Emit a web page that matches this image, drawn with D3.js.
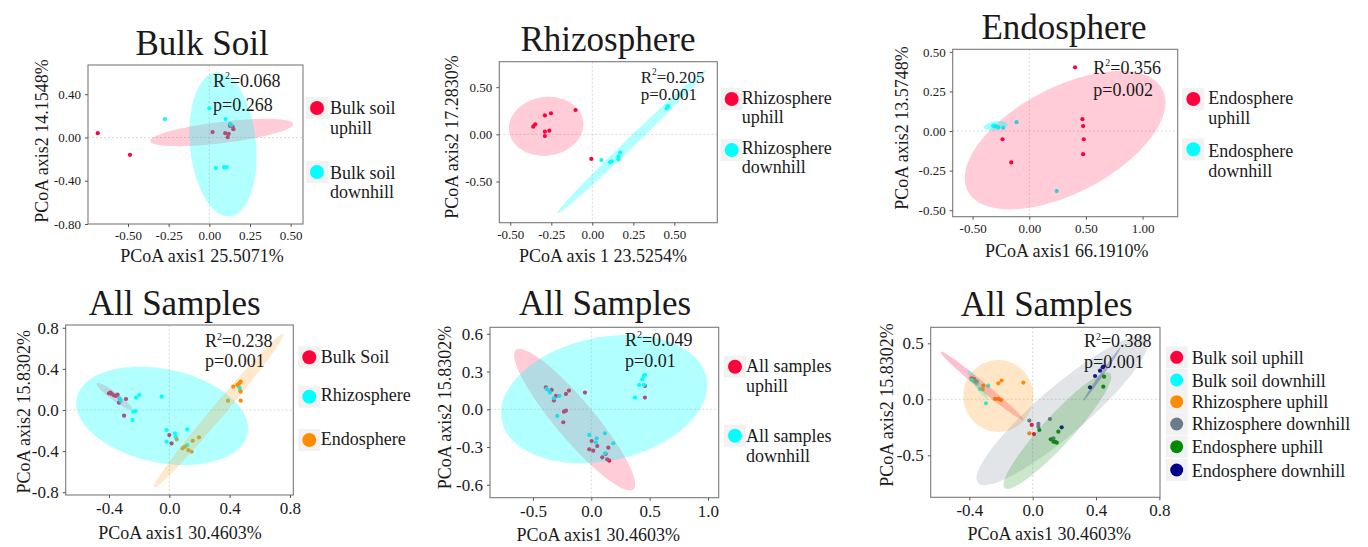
<!DOCTYPE html>
<html><head><meta charset="utf-8">
<script src="https://cdn.jsdelivr.net/npm/d3@7"></script>
<style>
body{margin:0;background:#fff}
svg text{font-family:"Liberation Serif","Times New Roman",serif;fill:#1a1a1a}
</style>
</head><body><svg id="c" width="1368" height="547"></svg>
<script>
// ---------------- DATA (PCoA coordinates, axis units) ----------------
// Panel 1: Bulk soil
const bulkSoilUphill = [[-0.686,0.04],[-0.488,-0.16],[0.02,0.05],[0.098,0.04],[0.119,0.034],[0.113,0.003],[0.143,0.10],[0.148,0.077],[0.127,0.108]];
const bulkSoilDownhill = [[-0.273,0.17],[0.0,0.27],[0.10,0.17],[0.127,0.126],[0.135,0.115],[0.04,-0.283],[0.09,-0.274],[0.107,-0.274]];
// ellipses: [cx, cy, semi-axis A (dx,dy), semi-axis B (dx,dy)]
const bulkSoilUphillEllipse = [0.076,0.046, 0.44,0.08, -0.008,0.098];
const bulkSoilDownhillEllipse = [0.084,-0.065, -0.043,0.665, 0.202,0.0295];
// Panel 2: Rhizosphere
const rhizoUphill = [[-0.102,0.258],[-0.289,0.2],[-0.252,0.223],[-0.36,0.081],[-0.348,0.106],[-0.289,0.028],[-0.289,-0.018],[-0.262,0.039],[-0.006,-0.261]];
const rhizoDownhill = [[0.055,-0.272],[0.108,-0.297],[0.118,-0.286],[0.159,-0.237],[0.169,-0.194],[0.159,-0.265],[0.453,0.276],[0.459,0.293],[0.463,0.30]];
const rhizoUphillEllipse = [-0.2815,0.085, 0.2256,0.053, -0.024,0.308];
const rhizoDownhillEllipse = [0.24,-0.078, 0.453,0.76, 0.0197,-0.0357];
// Panel 3: Endosphere
const endoUphill = [[0.404,0.402],[0.469,0.075],[0.475,0.031],[0.481,-0.052],[0.475,-0.146],[-0.236,-0.052],[-0.159,-0.198]];
const endoDownhill = [[-0.112,0.056],[0.242,-0.379],[-0.319,0.033],[-0.298,0.031],[-0.274,0.023],[-0.23,0.021],[-0.31,0.035]];
const endoUphillEllipse = [0.316,-0.058, 0.858,0.323, -0.221,0.294];
const endoDownhillEllipse = [-0.295,0.033, 0.105,0.010, -0.006,0.027];
// Panel 4: all samples by compartment
const allBulkSoil = [[-0.40,0.162],[-0.382,0.156],[-0.367,0.143],[-0.354,0.136],[-0.343,0.149],[-0.39,0.17],[-0.287,0.107],[-0.334,0.071],[-0.30,-0.055],[0.0,-0.244],[0.015,-0.325]];
const allRhizosphere = [[-0.323,0.091],[-0.33,0.11],[-0.221,0.12],[-0.199,0.146],[-0.051,0.13],[-0.239,-0.016],[-0.223,-0.01],[-0.243,-0.097],[-0.018,-0.195],[0.038,-0.227],[0.042,-0.26],[-0.018,-0.308],[0.119,-0.188],[0.119,-0.341],[0.469,0.195],[0.464,0.221]];
const allEndosphere = [[0.424,0.227],[0.451,0.244],[0.464,0.26],[0.473,0.276],[0.473,0.179],[0.473,0.091],[0.389,0.091],[0.049,-0.286],[0.088,-0.373],[0.104,-0.357],[0.126,-0.39],[0.148,-0.406],[0.155,-0.299],[0.197,-0.266]];
const allBulkSoilEllipse = [-0.365,0.133, 0.117,-0.127, -0.0157,-0.031];
const allRhizosphereEllipse = [-0.0475,-0.057, 0.566,-0.175, 0.064,0.445];
const allEndosphereEllipse = [0.327,-0.0065, 0.429,0.747, 0.0338,-0.0419];
// Panel 5: all samples by slope
const allUphill = [[-0.389,0.175],[-0.34,0.154],[-0.303,0.106],[-0.32,0.069],[-0.217,0.122],[-0.191,0.149],[-0.054,0.133],[-0.234,-0.019],[-0.217,-0.011],[-0.24,-0.103],[0.003,-0.252],[-0.017,-0.318],[0.017,-0.329],[0.051,-0.292],[0.094,-0.382],[0.137,-0.398],[0.154,-0.408],[0.146,-0.305],[0.46,0.186],[0.46,0.093],[0.123,-0.355]];
const allDownhill = [[-0.383,0.162],[-0.363,0.149],[-0.354,0.133],[-0.32,0.088],[-0.274,0.106],[-0.291,-0.053],[-0.017,-0.204],[0.046,-0.231],[0.04,-0.265],[0.117,-0.191],[0.189,-0.271],[0.117,-0.35],[0.374,0.093],[0.411,0.194],[0.437,0.239],[0.451,0.265],[0.46,0.273],[0.451,0.194]];
const allUphillEllipse = [-0.143,-0.082, 0.503,-0.554, 0.127,0.099];
const allDownhillEllipse = [0.11,0.081, 0.877,0.172, -0.109,0.48];
// Panel 6: compartment x slope
const sixBulkUp = [[-0.385,0.1875],[-0.37,0.18],[-0.354,0.158],[-0.006,-0.229],[0.008,-0.31]];
const sixBulkDown = [[-0.385,0.173],[-0.37,0.16],[-0.354,0.143],[-0.333,0.092],[-0.28,0.122],[-0.295,-0.036]];
const sixRhizoUp = [[-0.312,0.122],[-0.316,0.089],[-0.217,0.143],[-0.196,0.167],[-0.059,0.149],[-0.238,0.003],[-0.217,0.003],[-0.2,-0.006],[-0.021,-0.304]];
const sixRhizoDown = [[-0.021,-0.19],[0.036,-0.22],[0.036,-0.244],[0.109,-0.176],[0.131,-0.348],[-0.36,0.16]];
const sixEndoUp = [[0.042,-0.274],[0.114,-0.357],[0.131,-0.378],[0.152,-0.387],[0.162,-0.289],[0.141,-0.379],[0.451,0.202],[0.446,0.113]];
const sixEndoDown = [[0.362,0.107],[0.394,0.208],[0.425,0.256],[0.442,0.286],[0.446,0.292],[0.183,-0.25]];
const sixBulkUpEllipse = [-0.32,0.12, 0.261,-0.305, -0.016,-0.0274];
const sixBulkDownEllipse = [-0.349,0.137, 0.063,-0.128, -0.0175,-0.0173];
const sixRhizoUpEllipse = [-0.217,0.03, 0.221,0.0, 0.0,0.321];
const sixRhizoDownEllipse = [0.187,-0.101, 0.533,0.646, 0.099,-0.163];
const sixEndoUpEllipse = [0.156,-0.28, 0.333,0.512, 0.069,-0.09];
const sixEndoDownEllipse = [0.438,0.226, 0.118,0.238, 0.0086,-0.0086];

// tick values
const ticksP1x = [-0.5,-0.25,0,0.25,0.5], ticksP1y = [-0.8,-0.4,0,0.4];
const ticksP2x = [-0.5,-0.25,0,0.25,0.5], ticksP2y = [-0.5,0,0.5];
const ticksP3x = [-0.5,0,0.5,1.0], ticksP3y = [-0.5,-0.25,0,0.25,0.5];
const ticksP4x = [-0.4,0,0.4,0.8], ticksP4y = [-0.8,-0.4,0,0.4,0.8];
const ticksP5x = [-0.5,0,0.5,1.0], ticksP5y = [-0.6,-0.3,0,0.3,0.6];
const ticksP6x = [-0.4,0,0.4,0.8], ticksP6y = [-0.5,0,0.5];

// stats
const statsR2 = ["0.068","0.205","0.356","0.238","0.049","0.388"];
const statsP = ["0.268","0.001","0.002","0.001","0.01","0.001"];

// ---------------- STYLE ----------------
const RED="#FF003C", CYAN="#00FFFF", ORANGE="#FF8C00", SLATE="#6C7B8B", GREEN="#008B00", NAVY="#00008B";

const svg = d3.select("#c");

function ellipsePath(e, x, y){
  const [cx,cy,ax,ay,bx,by] = e;
  const pts = d3.range(0,144).map(i=>{
    const t = i/144*2*Math.PI;
    return [x(cx+ax*Math.cos(t)+bx*Math.sin(t)), y(cy+ay*Math.cos(t)+by*Math.sin(t))];
  });
  return d3.line().curve(d3.curveLinearClosed)(pts);
}

let clipId = 0;
function panel(c){
  const g = svg.append("g");
  const x = d3.scaleLinear().domain(c.xd).range([c.fx0,c.fx1]);
  const y = d3.scaleLinear().domain(c.yd).range([c.fy1,c.fy0]);
  const id = "clip"+(clipId++);
  g.append("clipPath").attr("id",id).append("rect")
    .attr("x",c.fx0).attr("y",c.fy0).attr("width",c.fx1-c.fx0).attr("height",c.fy1-c.fy0);
  g.append("line").attr("x1",x(0)).attr("x2",x(0)).attr("y1",c.fy0).attr("y2",c.fy1)
    .attr("stroke","#cfcfcf").attr("stroke-width",0.8).attr("stroke-dasharray","2,2");
  g.append("line").attr("x1",c.fx0).attr("x2",c.fx1).attr("y1",y(0)).attr("y2",y(0))
    .attr("stroke","#cfcfcf").attr("stroke-width",0.8).attr("stroke-dasharray","2,2");
  const inner = g.append("g").attr("clip-path",`url(#${id})`);
  c.groups.forEach(gr=>{
    inner.selectAll(null).data(gr.pts).enter().append("circle")
      .attr("cx",d=>x(d[0])).attr("cy",d=>y(d[1])).attr("r",2.1).attr("fill",gr.color);
  });
  c.groups.forEach(gr=>{
    inner.append("path").attr("d",ellipsePath(gr.ell,x,y))
      .attr("fill",gr.color).attr("fill-opacity",gr.alpha).attr("stroke","none");
  });
  g.append("rect").attr("x",c.fx0).attr("y",c.fy0).attr("width",c.fx1-c.fx0).attr("height",c.fy1-c.fy0)
    .attr("fill","none").attr("stroke","#7a7a7a").attr("stroke-width",1.1);
  const fmt = d=> d.toFixed(c.dec);
  const ax = g.append("g").attr("transform",`translate(0,${c.fy1})`)
    .call(d3.axisBottom(x).tickValues(c.tx).tickFormat(fmt).tickSize(3).tickPadding(4));
  const ay = g.append("g").attr("transform",`translate(${c.fx0},0)`)
    .call(d3.axisLeft(y).tickValues(c.ty).tickFormat(fmt).tickSize(3).tickPadding(4));
  [ax,ay].forEach(a=>{
    a.attr("font-family",null);
    a.select(".domain").remove();
    a.selectAll(".tick line").attr("stroke","#555");
    a.selectAll(".tick text").attr("font-size",c.tickFs).attr("fill","#222")
      .style("font-family",'"Liberation Serif",serif');
  });
  g.append("text").attr("x",c.title[1]).attr("y",c.title[2]).attr("text-anchor","middle")
    .attr("font-size",35).text(c.title[0]);
  g.append("text").attr("transform",`translate(${c.ylab[1]},${c.ylab[2]}) rotate(-90)`)
    .attr("text-anchor","middle").attr("dy","0.35em").attr("font-size",18).text(c.ylab[0]);
  g.append("text").attr("x",c.xlab[1]).attr("y",c.xlab[2]).attr("text-anchor","middle")
    .attr("font-size",18).text(c.xlab[0]);
  const fs = c.statFs || 18;
  const r = g.append("text").attr("x",c.stat[0]).attr("y",c.stat[1]).attr("font-size",fs);
  r.append("tspan").text("R");
  r.append("tspan").attr("font-size",fs*0.55).attr("dy",-fs*0.42).text("2");
  r.append("tspan").attr("dy",fs*0.42).text("="+statsR2[c.idx]);
  g.append("text").attr("x",c.stat[0]).attr("y",c.stat[2]).attr("font-size",fs).text("p="+statsP[c.idx]);
  c.legend.items.forEach(it=>{
    g.append("rect").attr("x",c.legend.cx-11).attr("y",it.cy-11).attr("width",22).attr("height",22)
      .attr("fill","#f2f2f2");
    g.append("circle").attr("cx",c.legend.cx).attr("cy",it.cy).attr("r",c.legend.r).attr("fill",it.color);
    it.lines.forEach(l=>{
      g.append("text").attr("x",c.legend.tx).attr("y",l[1]).attr("font-size",18).text(l[0]);
    });
  });
}

panel({idx:0, fx0:88, fx1:303, fy0:65, fy1:224, xd:[-0.746,0.576], yd:[-0.80,0.67],
  tx:ticksP1x, ty:ticksP1y, dec:2, tickFs:13,
  title:["Bulk Soil",202,55], ylab:["PCoA axis2 14.1548%",42,141], xlab:["PCoA axis1 25.5071%",202,262],
  stat:[213,87,111],
  groups:[{pts:bulkSoilUphill, ell:bulkSoilUphillEllipse, color:RED, alpha:0.2},
          {pts:bulkSoilDownhill, ell:bulkSoilDownhillEllipse, color:CYAN, alpha:0.3}],
  legend:{cx:317, tx:330, r:7, items:[
    {color:RED, cy:108, lines:[["Bulk soil",114],["uphill",133.5]]},
    {color:CYAN, cy:172, lines:[["Bulk soil",178.5],["downhill",198]]}]}
});

panel({idx:1, fx0:499.3, fx1:717.3, fy0:61.7, fy1:222.7, xd:[-0.567,0.762], yd:[-0.937,0.77],
  tx:ticksP2x, ty:ticksP2y, dec:2, tickFs:13,
  title:["Rhizosphere",608,50.5], ylab:["PCoA axis2 17.2830%",451.7,137], xlab:["PCoA axis 1 23.5254%",603,262],
  stat:[640.7,82.5,100], statFs:17,
  groups:[{pts:rhizoUphill, ell:rhizoUphillEllipse, color:RED, alpha:0.2},
          {pts:rhizoDownhill, ell:rhizoDownhillEllipse, color:CYAN, alpha:0.3}],
  legend:{cx:731.7, tx:741.7, r:7, items:[
    {color:RED, cy:99, lines:[["Rhizosphere",104],["uphill",123.3]]},
    {color:CYAN, cy:150, lines:[["Rhizosphere",154.3],["downhill",173.3]]}]}
});

panel({idx:2, fx0:952.7, fx1:1177.7, fy0:49.3, fy1:216.7, xd:[-0.676,1.31], yd:[-0.541,0.516],
  tx:ticksP3x, ty:ticksP3y, dec:2, tickFs:13,
  title:["Endosphere",1064,39.3], ylab:["PCoA axis2 13.5748%",901.7,128], xlab:["PCoA axis1 66.1910%",1066.7,256.7],
  stat:[1093.3,74,95.5],
  groups:[{pts:endoUphill, ell:endoUphillEllipse, color:RED, alpha:0.2},
          {pts:endoDownhill, ell:endoDownhillEllipse, color:CYAN, alpha:0.4}],
  legend:{cx:1193.3, tx:1208.3, r:7, items:[
    {color:RED, cy:99, lines:[["Endosphere",104],["uphill",124]]},
    {color:CYAN, cy:149.3, lines:[["Endosphere",156.7],["downhill",176.7]]}]}
});

panel({idx:3, fx0:65.7, fx1:293.3, fy0:325, fy1:495, xd:[-0.687,0.822], yd:[-0.827,0.827],
  tx:ticksP4x, ty:ticksP4y, dec:1, tickFs:17,
  title:["All Samples",174.7,315], ylab:["PCoA axis2 15.8302%",23.3,411.7], xlab:["PCoA axis1 30.4603%",180,539.3],
  stat:[205,347.3,366.7],
  groups:[{pts:allBulkSoil, ell:allBulkSoilEllipse, color:RED, alpha:0.2},
          {pts:allRhizosphere, ell:allRhizosphereEllipse, color:CYAN, alpha:0.3},
          {pts:allEndosphere, ell:allEndosphereEllipse, color:ORANGE, alpha:0.2}],
  legend:{cx:309.3, tx:320.7, r:7, items:[
    {color:RED, cy:357.3, lines:[["Bulk Soil",362.7]]},
    {color:CYAN, cy:396.7, lines:[["Rhizosphere",401]]},
    {color:ORANGE, cy:440, lines:[["Endosphere",445]]}]}
});

panel({idx:4, fx0:490, fx1:718.7, fy0:327.3, fy1:497.7, xd:[-0.868,1.092], yd:[-0.703,0.652],
  tx:ticksP5x, ty:ticksP5y, dec:1, tickFs:17,
  title:["All Samples",605,315], ylab:["PCoA axis2 15.8302%",445,407.5], xlab:["PCoA axis1 30.4603%",598.3,540.7],
  stat:[625,346,367],
  groups:[{pts:allUphill, ell:allUphillEllipse, color:RED, alpha:0.2},
          {pts:allDownhill, ell:allDownhillEllipse, color:CYAN, alpha:0.3}],
  legend:{cx:735, tx:746, r:7, items:[
    {color:RED, cy:366.7, lines:[["All samples",371.7],["uphill",391.7]]},
    {color:CYAN, cy:435.7, lines:[["All samples",441.7],["downhill",461.7]]}]}
});

panel({idx:5, fx0:930.7, fx1:1160, fy0:327.3, fy1:497.3, xd:[-0.644,0.804], yd:[-0.875,0.643],
  tx:ticksP6x, ty:ticksP6y, dec:1, tickFs:17,
  title:["All Samples",1046.7,316], ylab:["PCoA axis2 15.8302%",886.7,405], xlab:["PCoA axis1 30.4603%",1049.3,540],
  stat:[1084,347.3,367.5],
  groups:[{pts:sixBulkUp, ell:sixBulkUpEllipse, color:RED, alpha:0.25},
          {pts:sixBulkDown, ell:sixBulkDownEllipse, color:CYAN, alpha:0.3},
          {pts:sixRhizoUp, ell:sixRhizoUpEllipse, color:ORANGE, alpha:0.22},
          {pts:sixRhizoDown, ell:sixRhizoDownEllipse, color:SLATE, alpha:0.2},
          {pts:sixEndoUp, ell:sixEndoUpEllipse, color:GREEN, alpha:0.2},
          {pts:sixEndoDown, ell:sixEndoDownEllipse, color:NAVY, alpha:0.25}],
  legend:{cx:1176.7, tx:1191.7, r:6.5, items:[
    {color:RED, cy:357.3, lines:[["Bulk soil uphill",364]]},
    {color:CYAN, cy:380, lines:[["Bulk soil downhill",386.7]]},
    {color:ORANGE, cy:401.7, lines:[["Rhizosphere uphill",407.7]]},
    {color:SLATE, cy:424, lines:[["Rhizosphere downhill",430]]},
    {color:GREEN, cy:446.7, lines:[["Endosphere uphill",453.3]]},
    {color:NAVY, cy:470, lines:[["Endosphere downhill",476.7]]}]}
});
</script>
</body></html>
